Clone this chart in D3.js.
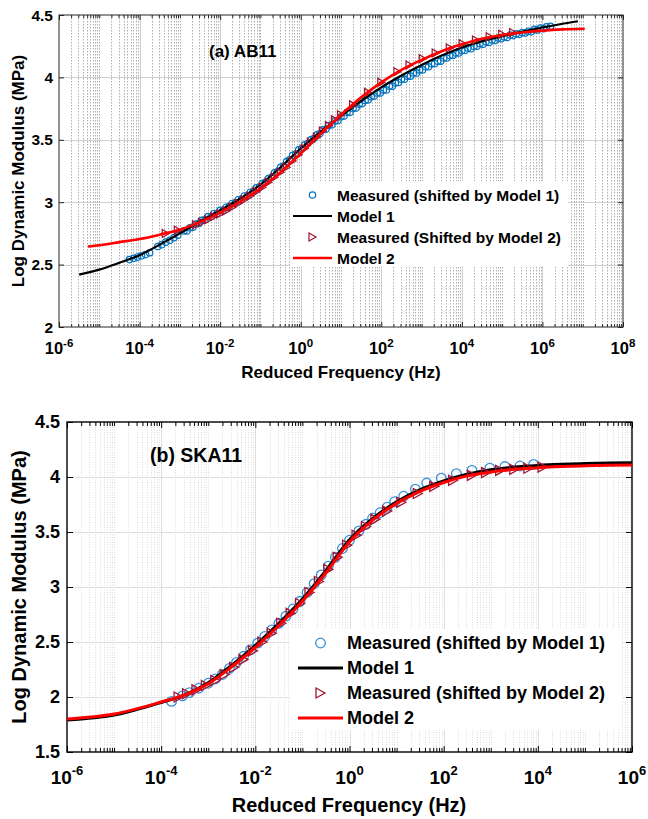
<!DOCTYPE html>
<html>
<head>
<meta charset="utf-8">
<script src="https://cdn.jsdelivr.net/npm/d3@7"></script>
<style>
  body { margin: 0; background: #fff; }
  text { font-family: Arial, "Liberation Sans", sans-serif; font-weight: bold; fill: #000; }
</style>
</head>
<body>
<svg id="fig" width="648" height="819"></svg>
<script>
// ---------- (a) AB11 : log10 of reduced frequency and log dynamic modulus ----------
const abModel1Exp = [-5.5,-5,-4.5,-4,-3.5,-3,-2.5,-2,-1.5,-1,-0.5,0,0.5,1,1.5,2,2.5,3,3.5,4,4.5,5,5.5,6,6.5,6.88];
const abModel1Val = [2.42,2.46,2.515,2.575,2.66,2.75,2.845,2.935,3.03,3.14,3.28,3.43,3.565,3.69,3.81,3.92,4.015,4.10,4.175,4.24,4.29,4.33,4.365,4.40,4.43,4.45];

const abModel2Exp = [-5.28,-5,-4.5,-4,-3.5,-3,-2.5,-2,-1.5,-1,-0.5,0,0.5,1,1.5,2,2.5,3,3.5,4,4.5,5,5.5,6,6.5,7.05];
const abModel2Val = [2.645,2.655,2.68,2.705,2.74,2.78,2.84,2.915,3.005,3.11,3.24,3.39,3.55,3.70,3.84,3.96,4.06,4.14,4.21,4.265,4.31,4.34,4.36,4.375,4.385,4.39];

const abMeas1Exp = [-4.25,-4.15,-4.05,-3.95,-3.85,-3.75,-3.55,-3.45,-3.35,-3.25,-3.15,-3.05,-2.9,-2.75,-2.6,-2.45,-2.3,-2.15,-2.0,-1.85,-1.7,-1.55,-1.4,-1.25,-1.1,-0.95,-0.8,-0.65,-0.5,-0.35,-0.2,-0.05,0.1,0.25,0.4,0.55,0.7,0.85,1.0,1.15,1.3,1.45,1.6,1.75,1.9,2.05,2.2,2.35,2.5,2.65,2.8,2.95,3.1,3.25,3.4,3.55,3.7,3.85,4.0,4.15,4.3,4.45,4.6,4.75,4.9,5.05,5.2,5.35,5.5,5.65,5.8,5.95,6.1,6.2];
const abMeas1Val = [2.54,2.55,2.56,2.57,2.58,2.595,2.645,2.66,2.68,2.695,2.715,2.735,2.77,2.795,2.825,2.855,2.885,2.91,2.935,2.96,2.99,3.02,3.05,3.08,3.115,3.15,3.19,3.235,3.28,3.325,3.375,3.42,3.46,3.50,3.54,3.58,3.615,3.65,3.685,3.72,3.75,3.785,3.815,3.845,3.875,3.90,3.93,3.955,3.985,4.01,4.035,4.06,4.085,4.11,4.13,4.155,4.175,4.195,4.215,4.235,4.25,4.27,4.285,4.30,4.315,4.325,4.34,4.35,4.36,4.37,4.385,4.395,4.405,4.41];
// overlapping isotherm readings in the same band
const abMeas1bExp = [-2.825,-2.675,-2.525,-2.375,-2.225,-2.075,-1.925,-1.775,-1.625,-1.475,-1.325,-1.175,-1.025,-0.875,-0.725,-0.575,-0.425,-0.275,-0.125,0.025,0.175,0.325,0.475,0.625,0.775,0.925,1.075,1.225,1.375,1.525,1.675,1.825,1.975,2.125,2.275,2.425,2.575,2.725,2.875,3.025,3.175,3.325,3.475,3.625,3.775,3.925,4.075,4.225,4.375,4.525,4.675,4.825,4.975,5.125,5.275,5.425,5.575,5.725,5.875,6.025];
const abMeas1bVal = [2.77,2.80,2.83,2.86,2.885,2.91,2.935,2.965,2.995,3.02,3.05,3.085,3.12,3.16,3.20,3.245,3.29,3.34,3.385,3.43,3.47,3.51,3.55,3.585,3.62,3.655,3.69,3.72,3.755,3.79,3.82,3.85,3.875,3.90,3.93,3.96,3.985,4.01,4.035,4.06,4.085,4.11,4.13,4.155,4.175,4.195,4.215,4.23,4.25,4.265,4.28,4.295,4.31,4.32,4.335,4.345,4.355,4.365,4.38,4.39];

const abMeas2Exp = [-3.35,-3.05,-2.6,-2.45,-2.3,-2.15,-2.0,-1.85,-1.7,-1.55,-1.4,-1.25,-1.1,-0.95,-0.8,-0.65,-0.5,-0.35,-0.2,-0.05,0.1,0.25,0.4,0.55,0.7,0.85,1.0,1.3,1.67,2.0,2.4,2.7,3.03,3.35,3.7,4.02,4.35,4.69,5.0,5.27];
const abMeas2Val = [2.75,2.775,2.82,2.84,2.86,2.885,2.905,2.93,2.96,2.99,3.02,3.05,3.085,3.12,3.16,3.20,3.24,3.28,3.33,3.38,3.43,3.48,3.52,3.57,3.615,3.66,3.70,3.78,3.88,3.96,4.045,4.10,4.15,4.195,4.235,4.27,4.30,4.325,4.345,4.36];

// ---------- (b) SKA11 ----------
const skaModelExp = [-6,-5,-4,-3.5,-3,-2.5,-2,-1.5,-1,-0.5,0,0.5,1,1.5,2,2.5,3,3.5,4,4.5,5,5.5,6];
const skaModel1Val = [1.79,1.835,1.95,2.02,2.13,2.29,2.47,2.67,2.89,3.15,3.43,3.625,3.775,3.885,3.965,4.025,4.065,4.09,4.105,4.115,4.122,4.127,4.13];
const skaModel2Val = [1.80,1.845,1.955,2.02,2.12,2.275,2.45,2.65,2.87,3.13,3.41,3.61,3.76,3.87,3.95,4.01,4.045,4.07,4.085,4.095,4.102,4.107,4.11];

const skaMeas1Exp = [-3.78,-3.55,-3.4,-3.2,-3.0,-2.85,-2.7,-2.55,-2.4,-2.25,-2.1,-1.95,-1.8,-1.65,-1.5,-1.35,-1.2,-1.05,-0.9,-0.75,-0.6,-0.45,-0.3,-0.15,0.0,0.2,0.35,0.49,0.65,0.8,0.96,1.15,1.4,1.64,1.95,2.27,2.6,2.98,3.3,3.62,3.91];
const skaMeas1Val = [1.96,2.01,2.04,2.08,2.125,2.165,2.205,2.26,2.315,2.37,2.43,2.49,2.55,2.61,2.67,2.735,2.80,2.87,2.95,3.03,3.11,3.19,3.27,3.35,3.425,3.51,3.57,3.625,3.675,3.725,3.775,3.825,3.89,3.945,3.99,4.03,4.06,4.08,4.095,4.10,4.115];

const skaMeas2Exp = [-3.63,-3.45,-3.25,-3.05,-2.85,-2.65,-2.45,-2.25,-2.05,-1.85,-1.65,-1.45,-1.25,-1.05,-0.85,-0.65,-0.45,-0.25,-0.05,0.15,0.35,0.55,0.8,1.1,1.45,1.8,2.2,2.6,2.9,3.2,3.5,3.8,4.1];
const skaMeas2Val = [2.0,2.03,2.065,2.105,2.15,2.205,2.27,2.34,2.42,2.50,2.58,2.67,2.76,2.85,2.95,3.05,3.16,3.27,3.38,3.47,3.55,3.615,3.69,3.77,3.85,3.915,3.97,4.015,4.04,4.06,4.07,4.08,4.09];

const legendLabelsA = ["Measured (shifted by Model 1)", "Model 1", "Measured (Shifted by Model 2)", "Model 2"];
const legendLabelsB = ["Measured (shifted by Model 1)", "Model 1", "Measured (shifted by Model 2)", "Model 2"];

const svg = d3.select("#fig");

const toPoints = (exps, vals) => exps.map((e, i) => ({ f: Math.pow(10, e), v: vals[i] }));

function triPath(w, h) {
  return `M${-w / 2},${-h / 2}L${w / 2},0L${-w / 2},${h / 2}Z`;
}

function drawPanel(p) {
  const x = d3.scaleLog()
    .domain([Math.pow(10, p.xExp[0]), Math.pow(10, p.xExp[1])])
    .range([p.left, p.right]);
  const y = d3.scaleLinear().domain(p.yDomain).range([p.bottom, p.top]);
  const g = svg.append("g");

  // labelled (major) decades every 10^2, every other tick minor
  const majors = d3.range(p.xExp[0], p.xExp[1] + 1, 2).map(e => Math.pow(10, e));
  const minors = [];
  for (let e = p.xExp[0]; e < p.xExp[1]; e++) {
    if ((e - p.xExp[0]) % 2 === 1) minors.push(Math.pow(10, e));
    for (let m = 2; m <= 9; m++) minors.push(m * Math.pow(10, e));
  }
  const yTicks = d3.range(p.yDomain[0], p.yDomain[1] + 1e-9, 0.5);

  // minor grid (dotted)
  g.append("g").selectAll("line").data(minors).join("line")
    .attr("x1", d => Math.round(x(d)) + 0.5).attr("x2", d => Math.round(x(d)) + 0.5)
    .attr("y1", p.top).attr("y2", p.bottom)
    .attr("stroke", p.minorGrid).attr("stroke-width", 1)
    .attr("stroke-dasharray", p.minorDash);

  // major grid
  g.append("g").selectAll("line").data(majors.slice(1, -1)).join("line")
    .attr("x1", d => Math.round(x(d)) + 0.5).attr("x2", d => Math.round(x(d)) + 0.5)
    .attr("y1", p.top).attr("y2", p.bottom)
    .attr("stroke", p.majorGrid).attr("stroke-width", 1);
  g.append("g").selectAll("line").data(yTicks.slice(1, -1)).join("line")
    .attr("x1", p.left).attr("x2", p.right)
    .attr("y1", d => Math.round(y(d)) + 0.5).attr("y2", d => Math.round(y(d)) + 0.5)
    .attr("stroke", p.majorGrid).attr("stroke-width", 1);

  // inward tick marks on all four sides
  const tickAxis = (axis, vals, size, tr) => {
    const a = g.append("g").attr("transform", tr)
      .call(axis.tickValues(vals).tickSize(-size).tickSizeOuter(0).tickFormat(""));
    a.select(".domain").remove();
    a.selectAll("line").attr("stroke", p.axisColor);
  };
  tickAxis(d3.axisBottom(x), majors, p.majorTick, `translate(0,${p.bottom})`);
  tickAxis(d3.axisBottom(x), minors, p.minorTick, `translate(0,${p.bottom})`);
  tickAxis(d3.axisTop(x), majors, p.majorTick, `translate(0,${p.top})`);
  tickAxis(d3.axisTop(x), minors, p.minorTick, `translate(0,${p.top})`);
  tickAxis(d3.axisLeft(y), yTicks, p.majorTick, `translate(${p.left},0)`);
  tickAxis(d3.axisRight(y), yTicks, p.majorTick, `translate(${p.right},0)`);

  // axes box
  g.append("rect")
    .attr("x", p.left).attr("y", p.top)
    .attr("width", p.right - p.left).attr("height", p.bottom - p.top)
    .attr("fill", "none").attr("stroke", p.axisColor).attr("stroke-width", p.boxWidth);

  // tick labels
  g.append("g").selectAll("text").data(majors).join("text")
    .attr("x", d => x(d)).attr("y", p.bottom + p.xLabelDy)
    .attr("text-anchor", "middle").style("font-size", p.xTickFont + "px")
    .each(function (d) {
      const e = Math.round(Math.log10(d));
      const t = d3.select(this);
      t.append("tspan").text("10");
      t.append("tspan").attr("dy", -p.xTickFont * 0.45)
        .style("font-size", p.expFont + "px")
        .text(e < 0 ? "-" + Math.abs(e) : String(e));
    });
  g.append("g").selectAll("text").data(yTicks).join("text")
    .attr("x", p.left - p.yLabelGap).attr("y", d => y(d)).attr("dy", "0.36em")
    .attr("text-anchor", "end").style("font-size", p.yTickFont + "px")
    .text(d => (d % 1 === 0 ? String(d) : d.toFixed(1)));

  // axis titles
  g.append("text").attr("x", p.xTitle[0]).attr("y", p.xTitle[1])
    .attr("text-anchor", "middle").style("font-size", p.titleFont + "px")
    .text("Reduced Frequency (Hz)");
  g.append("text")
    .attr("transform", `translate(${p.yTitle[0]},${p.yTitle[1]}) rotate(-90)`)
    .attr("text-anchor", "middle").attr("dy", "0.35em").style("font-size", p.titleFont + "px")
    .text("Log Dynamic Modulus (MPa)");

  // panel caption
  g.append("text").attr("x", p.caption[0]).attr("y", p.caption[1])
    .style("font-size", p.captionFont + "px").text(p.captionText);

  const line = d3.line().x(d => x(d.f)).y(d => y(d.v)).curve(d3.curveMonotoneX);
  const plot = g.append("g");

  // measured (shifted by model 1)
  plot.append("g").selectAll("circle").data(p.meas1).join("circle")
    .attr("cx", d => x(d.f)).attr("cy", d => y(d.v)).attr("r", p.circleR)
    .attr("fill", "none").attr("stroke", p.circleColor).attr("stroke-width", p.markerStroke);
  // model 1
  plot.append("path").datum(p.model1).attr("d", line)
    .attr("fill", "none").attr("stroke", "#000").attr("stroke-width", p.lineWidth);
  // measured (shifted by model 2)
  plot.append("g").selectAll("path").data(p.meas2).join("path")
    .attr("transform", d => `translate(${x(d.f)},${y(d.v)})`)
    .attr("d", triPath(p.triW, p.triH))
    .attr("fill", "none").attr("stroke", "#A2142F").attr("stroke-width", p.markerStroke);
  // model 2
  plot.append("path").datum(p.model2).attr("d", line)
    .attr("fill", "none").attr("stroke", "#FF0000").attr("stroke-width", p.redWidth);

  // legend
  const L = p.legend;
  const lg = g.append("g");
  lg.append("rect").attr("x", L.x).attr("y", L.y).attr("width", L.w).attr("height", L.h).attr("fill", "#fff");
  const mid = (L.l0 + L.l1) / 2;
  L.rows.forEach((ry, i) => {
    if (i === 0) {
      lg.append("circle").attr("cx", mid).attr("cy", ry).attr("r", p.circleR)
        .attr("fill", "none").attr("stroke", p.circleColor).attr("stroke-width", p.markerStroke);
    } else if (i === 2) {
      lg.append("path").attr("transform", `translate(${mid},${ry})`).attr("d", triPath(p.triW, p.triH))
        .attr("fill", "none").attr("stroke", "#A2142F").attr("stroke-width", p.markerStroke);
    } else {
      lg.append("line").attr("x1", L.l0).attr("x2", L.l1).attr("y1", ry).attr("y2", ry)
        .attr("stroke", i === 1 ? "#000" : "#FF0000").attr("stroke-width", i === 1 ? p.lineWidth : p.redWidth);
    }
    lg.append("text").attr("x", L.tx).attr("y", ry).attr("dy", "0.36em")
      .style("font-size", L.font + "px").text(L.labels[i]);
  });
}

drawPanel({
  left: 59, right: 623, top: 15, bottom: 327,
  xExp: [-6, 8], yDomain: [2, 4.5],
  minorGrid: "#b0b0b0", minorDash: "1.5,1.5", majorGrid: "#cfcfcf",
  axisColor: "#262626", boxWidth: 1, majorTick: 5, minorTick: 3,
  xTickFont: 16.5, expFont: 11.5, yTickFont: 15.5, xLabelDy: 27, yLabelGap: 6,
  titleFont: 17, xTitle: [341, 378], yTitle: [18, 171],
  captionFont: 17, caption: [209, 57], captionText: "(a) AB11",
  circleR: 3.2, circleColor: "#0072BD", markerStroke: 1.2, triW: 7, triH: 8, lineWidth: 2.2, redWidth: 2.6,
  meas1: toPoints(abMeas1Exp.concat(abMeas1bExp), abMeas1Val.concat(abMeas1bVal)),
  meas2: toPoints(abMeas2Exp, abMeas2Val),
  model1: toPoints(abModel1Exp, abModel1Val),
  model2: toPoints(abModel2Exp, abModel2Val),
  legend: { x: 290, y: 181, w: 278, h: 85, rows: [195, 216, 237, 258], l0: 293, l1: 332, tx: 337, font: 15.5, labels: legendLabelsA }
});

drawPanel({
  left: 67, right: 632, top: 422, bottom: 752,
  xExp: [-6, 6], yDomain: [1.5, 4.5],
  minorGrid: "#dcdcdc", minorDash: "1,1.5", majorGrid: "#dedede",
  axisColor: "#000", boxWidth: 1.4, majorTick: 6, minorTick: 4,
  xTickFont: 19, expFont: 13, yTickFont: 18, xLabelDy: 32, yLabelGap: 7,
  titleFont: 20, xTitle: [349, 812], yTitle: [19, 587],
  captionFont: 19.5, caption: [150, 462], captionText: "(b) SKA11",
  circleR: 4.8, circleColor: "#3b8fd6", markerStroke: 1.3, triW: 9, triH: 10, lineWidth: 3, redWidth: 3,
  meas1: toPoints(skaMeas1Exp, skaMeas1Val),
  meas2: toPoints(skaMeas2Exp, skaMeas2Val),
  model1: toPoints(skaModelExp, skaModel1Val),
  model2: toPoints(skaModelExp, skaModel2Val),
  legend: { x: 290, y: 629, w: 332, h: 101, rows: [643, 668, 693, 718], l0: 298, l1: 343, tx: 347, font: 18, labels: legendLabelsB }
});
</script>
</body>
</html>
